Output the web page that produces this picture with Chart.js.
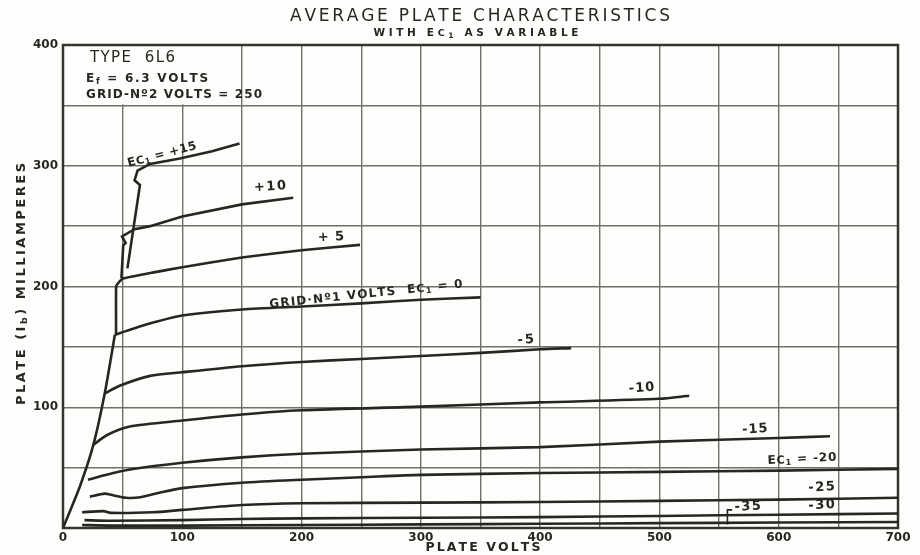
<!DOCTYPE html>
<html>
<head>
<meta charset="utf-8">
<script src="https://cdn.jsdelivr.net/npm/chart.js@4"></script>
<style>
  body { margin: 0; background: #fdfdfb; }
  canvas { display: block; }
</style>
</head>
<body>
<canvas id="plate_chart" width="920" height="555"></canvas>
<script>
// plate volts / milliamperes, one list per grid voltage
var knee = [[0,0],[14,34],[25.5,69],[35,111.5],[43.5,160]];
var curveP15 = [[54,215],[64.5,284],[60,288],[62.5,296],[73,301.5],[98,306],[125,312],[148,318.5]];
var curveP10 = [[49,207],[50.5,234],[52.5,236],[49.5,241.5],[60,247.5],[73,250],[100,258],[150,268],[193,273.5]];
var curveP5 = [[44.5,160],[44.5,200],[46,202.5],[50,206.5],[75,211.5],[100,216],[150,224],[200,230],[249,234.5]];
var curve0 = [[43.5,160],[48,161.5],[60,165.5],[75,170],[100,176],[150,181],[200,183.5],[250,186],[300,189],[350,191]];
var curveM5 = [[35,111.5],[48,118],[73,126],[100,129],[150,134],[200,137.5],[250,140],[300,142.5],[350,145],[400,148],[426,149]];
var curveM10 = [[25.5,69],[37,77],[56,84],[100,89],[150,94],[200,97.5],[300,100.5],[400,104],[500,107],[525,109.5]];
var curveM15 = [[21,40],[32,43],[40,45],[56,48.5],[100,54],[150,58.5],[200,61.5],[300,65],[400,67],[500,71.5],[600,74.5],[643,76]];
var curveM20 = [[22.5,26],[35,28.5],[40,27.5],[53,25],[65,25.5],[80,29],[100,33],[150,37.5],[200,40],[250,42],[300,44],[400,45.5],[500,46.5],[600,47.5],[700,49]];
var curveM25 = [[16,13],[34,14],[40,12.5],[75,13],[100,15],[150,19],[200,20.5],[300,21],[400,21.5],[500,22.5],[600,23.5],[700,25]];
var curveM30 = [[18,6.5],[40,6],[100,6.5],[150,7.5],[200,8],[300,8.5],[400,9],[500,10],[600,11],[700,12]];
var curveM35 = [[16,2.5],[40,2],[100,2],[200,2.5],[300,3],[400,3.5],[500,4],[600,4.5],[700,5]];

var xTickLabels = [0,100,200,300,400,500,600,700];
var yTickLabels = [100,200,300,400];

var INK = '#262622';
var GRID = '#707066';
var FONT = '"DejaVu Sans", sans-serif';

function pts(list) {
  return list.map(function(p){ return {x: p[0], y: p[1]}; });
}

// draws text char by char so the wide lettering of the sheet can be matched
// segs: [text, size, dy]
function drawRich(ctx, segs, cx, cy, o) {
  ctx.save();
  ctx.translate(cx, cy);
  ctx.rotate((o.angle || 0) * Math.PI / 180);
  var items = [], sum = 0;
  segs.forEach(function(s) {
    ctx.font = (o.weight || 'bold') + ' ' + s[1] + 'px ' + FONT;
    for (var i = 0; i < s[0].length; i++) {
      var w = ctx.measureText(s[0][i]).width;
      items.push({ch: s[0][i], font: ctx.font, w: w, dy: s[2] || 0});
      sum += w;
    }
  });
  var sp = o.width ? (o.width - sum) / Math.max(items.length - 1, 1) : (o.sp || 0);
  var total = sum + sp * (items.length - 1);
  var x = o.align === 'left' ? 0 : -total / 2;
  ctx.fillStyle = INK;
  ctx.textBaseline = 'middle';
  items.forEach(function(it) {
    ctx.font = it.font;
    ctx.fillText(it.ch, x, it.dy);
    x += it.w + sp;
  });
  ctx.restore();
}

var sheetPlugin = {
  id: 'sheet',
  beforeDraw: function(chart) {
    var ctx = chart.ctx;
    ctx.save();
    ctx.fillStyle = '#fdfdfb';
    ctx.fillRect(0, 0, chart.width, chart.height);
    ctx.restore();
  },
  beforeDatasetsDraw: function(chart) {
    var ctx = chart.ctx, xs = chart.scales.x, ys = chart.scales.y, a = chart.chartArea;
    ctx.save();
    // blank panel behind the type data
    ctx.fillStyle = '#fdfdfb';
    var l = xs.getPixelForValue(0) + 1, r = xs.getPixelForValue(150) - 1;
    var t = ys.getPixelForValue(400) + 1, b = ys.getPixelForValue(350) - 1;
    ctx.fillRect(l, t, r - l, b - t);
    ctx.strokeStyle = '#34342e';
    ctx.lineWidth = 2.5;
    ctx.strokeRect(a.left, a.top, a.right - a.left, a.bottom - a.top);
    ctx.restore();
  },
  afterDraw: function(chart) {
    var ctx = chart.ctx, xs = chart.scales.x, ys = chart.scales.y;
    function X(v) { return xs.getPixelForValue(v); }
    function Y(v) { return ys.getPixelForValue(v); }

    drawRich(ctx, [['AVERAGE PLATE CHARACTERISTICS', 17]], 480, 17, {width: 380, weight: 'normal'});
    drawRich(ctx, [['WITH E', 10.5], ['C', 9.5, 0.5], ['1', 7.5, 3], [' AS VARIABLE', 10.5]], 476, 33, {width: 205});

    drawRich(ctx, [['PLATE VOLTS', 12.5]], 483, 548, {width: 115});
    drawRich(ctx, [['PLATE (', 13], ['I', 13], ['b', 9.5, 3], [') MILLIAMPERES', 13]], 22, 284, {width: 242, angle: -90});

    drawRich(ctx, [['TYPE  6L6', 15]], X(22.6), Y(389), {width: 85, align: 'left', weight: 'normal'});
    drawRich(ctx, [['E', 12], ['f', 8.5, 3], [' = 6.3 VOLTS', 12]], X(19.3), Y(372), {width: 122, align: 'left'});
    drawRich(ctx, [['GRID-N\u00BA2 VOLTS = 250', 12]], X(19.3), Y(359), {width: 176, align: 'left'});

    drawRich(ctx, [['E', 12], ['C', 11, 0.5], ['1', 8, 3], [' = +15', 12]], X(83), Y(309), {width: 71, angle: -14.5});
    drawRich(ctx, [['+10', 13]], X(173.5), Y(282.6), {sp: 1.5, angle: -4});
    drawRich(ctx, [['+ 5', 13]], X(224.6), Y(240.8), {sp: 1, angle: -3});
    drawRich(ctx, [['GRID\u00B7N\u00BA1 VOLTS  E', 12], ['C', 11, 0.5], ['1', 8, 3], [' = 0', 12]], X(254), Y(193.4), {width: 194, angle: -6});
    drawRich(ctx, [['-5', 13]], X(388), Y(155.7), {sp: 2, angle: -4});
    drawRich(ctx, [['-10', 13]], X(485), Y(115.8), {sp: 1, angle: -4});
    drawRich(ctx, [['-15', 13]], X(580), Y(81.7), {sp: 1, angle: -4});
    drawRich(ctx, [['E', 12], ['C', 11, 0.5], ['1', 8, 3], [' = -20', 12]], X(619.5), Y(57), {width: 69, angle: -3});
    drawRich(ctx, [['-25', 13]], X(636), Y(33.6), {sp: 1.5, angle: -3});
    drawRich(ctx, [['-30', 13]], X(636), Y(18.7), {sp: 1.5, angle: -3});
    drawRich(ctx, [['-35', 13]], X(574), Y(17.6), {sp: 1.5, angle: -3});

    // leader from the -35 label down to its curve
    ctx.save();
    ctx.strokeStyle = INK;
    ctx.lineWidth = 1.6;
    ctx.beginPath();
    ctx.moveTo(X(561), Y(15));
    ctx.lineTo(X(557), Y(15));
    ctx.lineTo(X(557), Y(3));
    ctx.stroke();
    ctx.restore();
  }
};

function curve(list, tension) {
  return {
    data: pts(list),
    showLine: true,
    borderColor: INK,
    borderWidth: 2.6,
    pointRadius: 0,
    tension: tension,
    fill: false
  };
}

var chart = new Chart(document.getElementById('plate_chart'), {
  type: 'scatter',
  data: {
    datasets: [
      curve(knee, 0.2),
      curve(curveP15, 0),
      curve(curveP10, 0),
      curve(curveP5, 0.1),
      curve(curve0, 0.25),
      curve(curveM5, 0.25),
      curve(curveM10, 0.25),
      curve(curveM15, 0.25),
      curve(curveM20, 0.25),
      curve(curveM25, 0.25),
      curve(curveM30, 0.25),
      curve(curveM35, 0.25)
    ]
  },
  options: {
    responsive: false,
    animation: false,
    events: [],
    layout: { padding: { left: 0, right: 22, top: 45, bottom: 0 } },
    plugins: { legend: { display: false }, tooltip: { enabled: false } },
    scales: {
      x: {
        type: 'linear', min: 0, max: 700,
        afterFit: function(s) { s.height = 27; },
        grid: { color: GRID, lineWidth: 1.4, drawTicks: false },
        border: { display: false },
        ticks: {
          stepSize: 50, autoSkip: false, maxRotation: 0, padding: 3, color: INK,
          font: { family: FONT, size: 12, weight: 'bold' },
          callback: function(v) { return xTickLabels.indexOf(v) > -1 ? String(v) : ''; }
        }
      },
      y: {
        type: 'linear', min: 0, max: 400,
        afterFit: function(s) { s.width = 63; },
        grid: { color: GRID, lineWidth: 1.4, drawTicks: false },
        border: { display: false },
        ticks: {
          stepSize: 50, autoSkip: false, padding: 5, color: INK,
          font: { family: FONT, size: 12, weight: 'bold' },
          callback: function(v) { return yTickLabels.indexOf(v) > -1 ? String(v) : ''; }
        }
      }
    }
  },
  plugins: [sheetPlugin]
});
</script>
</body>
</html>
